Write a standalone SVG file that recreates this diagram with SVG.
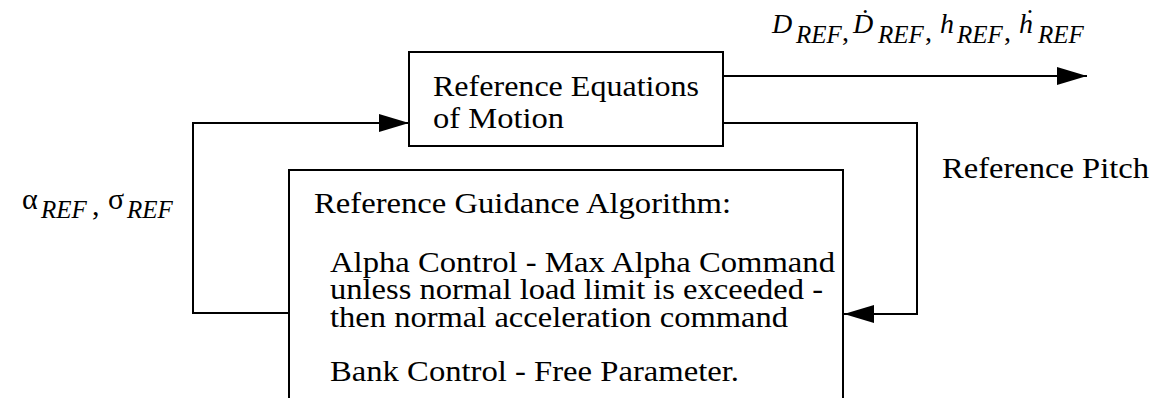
<svg xmlns="http://www.w3.org/2000/svg" width="1158" height="398" viewBox="0 0 1158 398">
  <style>
    .box { fill: #ffffff; stroke: #000000; stroke-width: 2; }
    .wire { fill: none; stroke: #000000; stroke-width: 2; }
    .t { font-family: "Liberation Serif", "Times New Roman", "DejaVu Serif", serif; font-size: 30px; fill: #000000; }
    .m { font-family: "Liberation Serif", "Times New Roman", "DejaVu Serif", serif; font-style: italic; fill: #000000; }
    .s { font-family: "Liberation Serif", "Times New Roman", "DejaVu Serif", serif; font-style: italic; font-size: 25px; fill: #000000; }
  </style>
  <defs>
    <marker id="arrow" markerUnits="userSpaceOnUse" markerWidth="30" markerHeight="18" refX="30" refY="9" orient="auto">
      <path d="M0,0 L30,9 L0,18 Z" fill="#000000"/>
    </marker>
  </defs>
  <rect x="0" y="0" width="1158" height="398" fill="#ffffff"/>

  <g id="connectors">
    <path class="wire" d="M723,76 H1087" marker-end="url(#arrow)"/>
    <path class="wire" d="M723,123 H917 V314 H844" marker-end="url(#arrow)"/>
    <path class="wire" d="M289,313 H193 V123 H409" marker-end="url(#arrow)"/>
  </g>

  <g id="reference-equations">
    <rect class="box" x="409" y="52" width="314" height="94"/>
    <text class="t" x="433" y="96" textLength="266" lengthAdjust="spacingAndGlyphs">Reference Equations</text>
    <text class="t" x="433" y="128" textLength="131" lengthAdjust="spacingAndGlyphs">of Motion</text>
  </g>

  <g id="reference-guidance">
    <path class="box" d="M289,410 V170 H843 V410"/>
    <text class="t" x="314" y="213" textLength="417" lengthAdjust="spacingAndGlyphs">Reference Guidance Algorithm:</text>
    <text class="t" x="330" y="272" textLength="505" lengthAdjust="spacingAndGlyphs">Alpha Control - Max Alpha Command</text>
    <text class="t" x="330" y="299" textLength="493" lengthAdjust="spacingAndGlyphs">unless normal load limit is exceeded -</text>
    <text class="t" x="330" y="327" textLength="458" lengthAdjust="spacingAndGlyphs">then normal acceleration command</text>
    <text class="t" x="330" y="381" textLength="409" lengthAdjust="spacingAndGlyphs">Bank Control - Free Parameter.</text>
  </g>

  <g id="labels">
    <text class="m" font-size="28"><tspan x="772" y="33">D</tspan><tspan class="s" x="796" y="43">REF</tspan><tspan font-style="normal" x="842" y="41">,</tspan><tspan x="853" y="33">Ḋ</tspan><tspan class="s" x="878" y="43">REF</tspan><tspan font-style="normal" x="925" y="41">,</tspan><tspan x="940" y="33">h</tspan><tspan class="s" x="957" y="43">REF</tspan><tspan font-style="normal" x="1004" y="41">,</tspan><tspan x="1019" y="33">ḣ</tspan><tspan class="s" x="1038" y="43">REF</tspan></text>
    <text class="t" x="942" y="178" textLength="207" lengthAdjust="spacingAndGlyphs">Reference Pitch</text>
    <text class="t" font-size="32px"><tspan x="22" y="209">α</tspan><tspan class="s" font-size="27px" x="41" y="218">REF</tspan><tspan x="92" y="215">,</tspan><tspan x="108" y="209">σ</tspan><tspan class="s" font-size="27px" x="127" y="218">REF</tspan></text>
  </g>
</svg>
